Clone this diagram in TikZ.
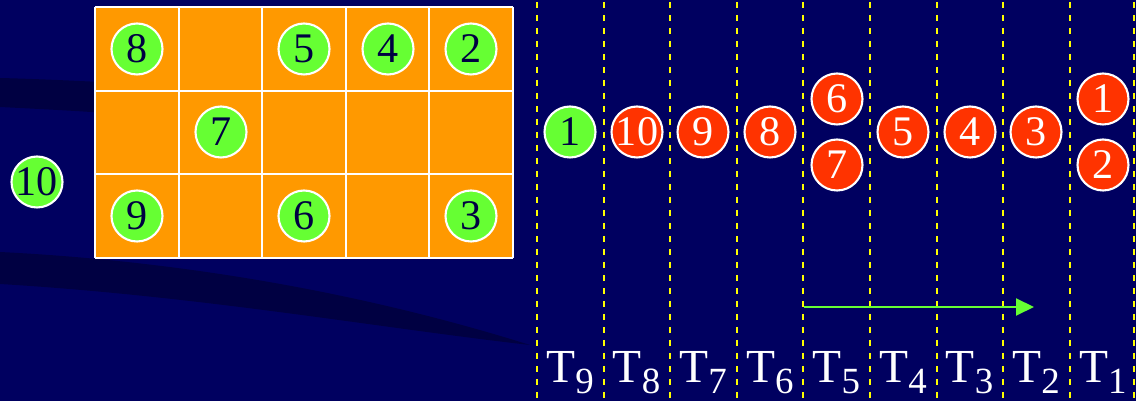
\documentclass[tikz,border=0pt]{standalone}
\usepackage{fontspec}
\setmainfont{Liberation Serif}
\usetikzlibrary{arrows.meta, positioning}
\definecolor{navy}{RGB}{0,0,96}
\definecolor{navydark}{RGB}{0,0,66}
\definecolor{gridorange}{RGB}{255,153,0}
\definecolor{ballgreen}{RGB}{102,255,51}
\definecolor{ballred}{RGB}{255,51,0}
\definecolor{lineyellow}{RGB}{255,255,0}

\begin{document}
\begin{tikzpicture}[
x=0.02cm, y=-0.02cm,
>=Stealth,
ball/.style={circle, draw=white, line width=1.2pt, minimum size=1.02cm, inner sep=0pt, font=\fontsize{24}{24}\selectfont},
freeball/.style={ball, fill=ballgreen, text=navydark},
doneball/.style={ball, fill=ballred, text=white},
tlabel/.style={text=white, anchor=base, inner sep=0pt, font=\fontsize{27}{27}\selectfont},
slot/.style={lineyellow, line width=1.1pt, dash pattern=on 0.12cm off 0.14cm},
cellline/.style={white, line width=1.1pt}
]

% --- Fond ---
\fill[navy] (0,0) rectangle (1136,401);
\useasboundingbox (0,0) rectangle (1136,401);
\fill[navydark] (0,78) .. controls (40,79) and (80,81) .. (120,83) -- (120,114) .. controls (80,111) and (40,109) .. (0,107) -- cycle;
\fill[navydark] (0,252) .. controls (200,262) and (380,298) .. (530,345) .. controls (380,328) and (200,296) .. (0,284) -- cycle;

% --- Grille ---
\fill[gridorange] (95,7) rectangle (513,258);
\foreach \i in {0,...,5} \draw[cellline] ({95+83.6*\i},7) -- ({95+83.6*\i},258);
\foreach \j in {0,...,3} \draw[cellline] (95,{7+83.7*\j}) -- (513,{7+83.7*\j});

% --- Boules dans la grille ---
\node[freeball] (g8) at (137,49) {8};
\node[freeball] (g5) at (304,49) {5};
\node[freeball] (g4) at (388,49) {4};
\node[freeball] (g2) at (471,49) {2};
\node[freeball] (g7) at (221,132) {7};
\node[freeball] (g9) at (137,216) {9};
\node[freeball] (g6) at (304,216) {6};
\node[freeball] (g3) at (471,216) {3};
\node[freeball] (g10) at (37,182) {10};

% --- Lignes de temps ---
\foreach \k in {0,...,8} \draw[slot] ({537+66.6*\k},2) -- ({537+66.6*\k},401);
\draw[slot] (1134,2) -- (1134,401);

% --- File des boules ---
\node[freeball] (cur1) at (570,132) {1};
\node[doneball] (d10) at (637,132) {10};
\node[doneball] (d9) at (703,132) {9};
\node[doneball] (d8) at (770,132) {8};
\node[doneball] (d6) at (837,99) {6};
\node[doneball] (d7) at (837,165) {7};
\node[doneball] (d5) at (903,132) {5};
\node[doneball] (d4) at (970,132) {4};
\node[doneball] (d3) at (1036,132) {3};
\node[doneball] (d1) at (1103,99) {1};
\node[doneball] (d2) at (1103,165) {2};

% --- Fleche ---
\coordinate (arrS) at (804,307);
\coordinate (arrE) at (1034,307);
\draw[-{Triangle[length=0.36cm,width=0.34cm]}, ballgreen, line width=1.1pt] (arrS) -- (arrE);

% --- Etiquettes T ---
\foreach \k/\t in {0/9,1/8,2/7,3/6,4/5,5/4,6/3,7/2,8/1}
  \node[tlabel] (lab\t) at ({570+66.6*\k},383) {T\raisebox{-0.21cm}{\fontsize{21}{21}\selectfont \t}};

\end{tikzpicture}
\end{document}
